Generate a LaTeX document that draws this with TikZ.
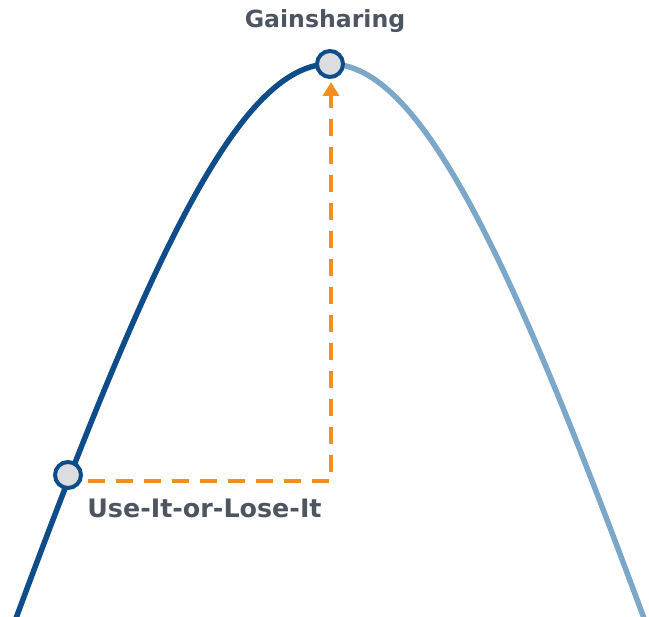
\documentclass[tikz,border=0pt]{standalone}
\usepackage{fontspec}
\setmainfont{DejaVu Sans}
\usetikzlibrary{arrows.meta}
\definecolor{darkblue}{HTML}{0E4C8A}
\definecolor{lightblue}{HTML}{7BA7C8}
\definecolor{dotfill}{HTML}{DCDDDE}
\definecolor{orange1}{HTML}{F0901E}
\definecolor{labelgray}{HTML}{4D5560}
\begin{document}
\begin{tikzpicture}[x=1pt,y=-1pt,
  curveleft/.style={draw=darkblue,line width=5.5pt},
  curveright/.style={draw=lightblue,line width=5.5pt},
  dotnode/.style={circle,draw=darkblue,fill=dotfill,line width=4pt,minimum size=26pt,inner sep=0pt},
  dashline/.style={draw=orange1,line width=4pt,dash pattern=on 17pt off 11pt,-{Triangle[length=14pt,width=16pt]}},
  lbl/.style={text=labelgray,inner sep=0pt}]
\useasboundingbox (0,0) rectangle (649,617);
\coordinate (bl) at (15,621);
\coordinate (br) at (645,621);
\coordinate (corner) at (331,481.5);
\coordinate (start) at (88,481.5);
\draw[curveleft] (bl) .. controls (152,250) and (241,64) .. (330,64);
\draw[curveright] (330,64) .. controls (419,64) and (508,250) .. (br);
\node[dotnode] (peak) at (330,64) {};
\node[dotnode] (low) at (68,475) {};
\draw[dashline] (start) -- (corner) -- (331,82);
\node[lbl,anchor=base,font=\fontsize{23.6}{28}\selectfont\bfseries] (gain) at (325,28) {Gainsharing};
\node[lbl,anchor=base,font=\fontsize{25.4}{30}\selectfont\bfseries] (use) at (204.5,518) {Use-It-or-Lose-It};
\end{tikzpicture}
\end{document}
